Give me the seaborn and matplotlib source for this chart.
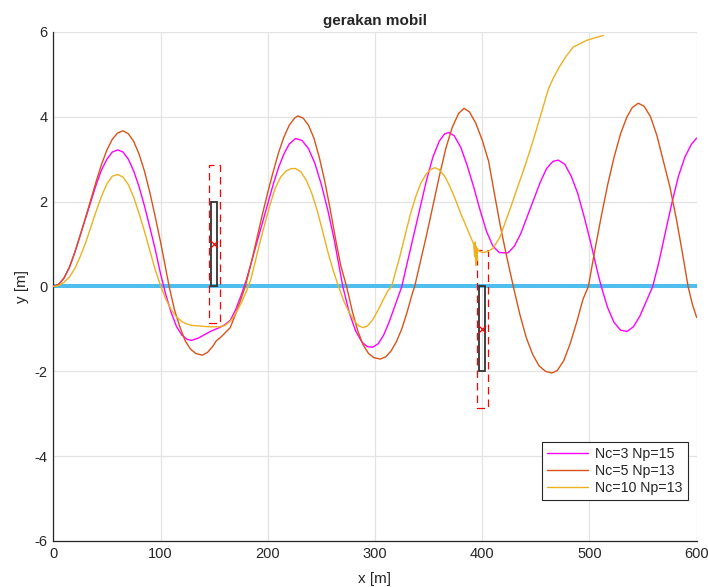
import matplotlib
matplotlib.use("Agg")
import matplotlib.pyplot as plt
from matplotlib.patches import Rectangle
import seaborn as sns
import pandas as pd

# Trajectory of the car for three controller settings
nc3_x = [0, 5, 10, 15, 20, 25, 30, 35, 40, 45, 50, 55, 60, 65, 70, 75, 80, 85, 90, 95,
         100, 105, 110, 115, 120, 125, 129, 135, 140, 145, 150, 155, 160, 165, 170, 175,
         180, 185, 190, 195, 200, 205, 210, 215, 220, 226, 232, 238, 244, 250, 256, 262,
         270, 276, 282, 288, 293, 298, 303, 308, 313, 318, 325, 330, 336, 342, 348, 354,
         360, 365, 369, 374, 380, 386, 392, 398, 404, 410, 416, 424, 430, 436, 442, 448,
         454, 460, 466, 471, 477, 483, 489, 495, 501, 507, 511, 517, 523, 529, 535, 541,
         547, 553, 559, 565, 571, 577, 583, 589, 595, 600]
nc3_y = [0, 0.05, 0.2, 0.45, 0.8, 1.2, 1.6, 2.0, 2.4, 2.75, 3.0, 3.17, 3.22, 3.17, 3.0,
         2.72, 2.35, 1.9, 1.4, 0.88, 0.3, -0.2, -0.62, -0.95, -1.15, -1.25, -1.27, -1.22,
         -1.15, -1.08, -1.02, -0.97, -0.9, -0.8, -0.55, -0.22, 0.15, 0.6, 1.05, 1.5, 1.95,
         2.4, 2.8, 3.12, 3.36, 3.49, 3.44, 3.25, 2.9, 2.4, 1.8, 1.1, 0.0, -0.62, -1.05,
         -1.32, -1.42, -1.43, -1.35, -1.15, -0.85, -0.5, 0.0, 0.55, 1.2, 1.85, 2.5, 3.05,
         3.43, 3.6, 3.63, 3.55, 3.28, 2.85, 2.35, 1.8, 1.3, 0.95, 0.8, 0.79, 0.95, 1.25,
         1.65, 2.05, 2.45, 2.78, 2.95, 2.98, 2.88, 2.6, 2.2, 1.65, 1.05, 0.4, 0.0, -0.5,
         -0.85, -1.03, -1.06, -0.95, -0.7, -0.35, 0.0, 0.6, 1.3, 1.98, 2.6, 3.05, 3.35, 3.5]

nc5_x = [0, 5, 10, 15, 20, 25, 30, 35, 40, 45, 50, 55, 60, 65, 70, 75, 80, 85, 90, 95,
         100, 105, 108, 113, 118, 123, 128, 133, 139, 144, 149, 152, 156, 160, 165, 170,
         175, 179, 185, 190, 195, 200, 205, 210, 215, 220, 225, 228, 233, 238, 243, 248,
         253, 258, 263, 268, 273.5, 279, 284, 289, 294, 299, 305, 310, 315, 320, 325, 330,
         335, 337, 342, 348, 354, 360, 366, 372, 378, 383, 388, 394, 400, 406, 412, 416.5,
         422, 429, 435, 441, 447, 453, 459, 465, 470, 476, 482, 488, 494, 499, 505, 511,
         517, 523, 529, 535, 540, 545.5, 551, 557, 563, 569, 575, 581, 587, 592, 596, 600]
nc5_y = [0, 0.05, 0.2, 0.45, 0.8, 1.2, 1.62, 2.05, 2.48, 2.88, 3.22, 3.47, 3.62, 3.67,
         3.6, 3.42, 3.12, 2.72, 2.22, 1.65, 1.05, 0.4, 0.0, -0.55, -0.95, -1.28, -1.48,
         -1.58, -1.62, -1.55, -1.4, -1.28, -1.2, -1.1, -0.97, -0.65, -0.3, 0.0, 0.6, 1.15,
         1.7, 2.22, 2.7, 3.15, 3.52, 3.8, 3.97, 4.02, 3.97, 3.8, 3.5, 3.05, 2.5, 1.85,
         1.15, 0.5, 0.0, -0.6, -1.05, -1.38, -1.58, -1.68, -1.71, -1.66, -1.52, -1.3,
         -1.0, -0.6, -0.15, 0.0, 0.55, 1.2, 1.9, 2.6, 3.25, 3.75, 4.08, 4.2, 4.12, 3.85,
         3.45, 2.95, 2.1, 1.48, 0.8, 0.0, -0.65, -1.2, -1.6, -1.87, -2.0, -2.04, -1.98,
         -1.75, -1.35, -0.85, -0.3, 0.0, 0.85, 1.65, 2.4, 3.05, 3.6, 4.0, 4.22, 4.32, 4.25,
         4.0, 3.55, 2.95, 2.35, 1.6, 0.75, 0.0, -0.42, -0.73]

nc10_x = [0, 5, 10, 15, 20, 25, 30, 35, 40, 45, 50, 55, 60, 65, 70, 75, 80, 85, 90, 95,
          100, 105, 110, 115, 120, 125, 130, 135, 140, 145, 150, 155, 160, 165, 168, 172,
          176, 180, 184, 188, 192, 197, 202, 207, 212, 217, 222, 226, 231, 236, 241, 246,
          251, 256, 261, 266, 271, 276, 281, 285, 289, 293, 298, 303, 308, 312, 315.5, 319,
          323, 328, 333, 338, 343, 348, 352, 356, 360, 365, 370, 375, 380, 385, 390, 392,
          393, 393.5, 394, 394.5, 395, 395.5, 396.3, 400, 405, 410, 416.5, 422, 427, 432,
          440, 447.6, 455, 461.5, 466, 472, 478, 485, 491, 497, 505, 513]
nc10_y = [0, 0.02, 0.1, 0.22, 0.42, 0.7, 1.02, 1.4, 1.78, 2.13, 2.42, 2.6, 2.64, 2.58,
          2.4, 2.1, 1.72, 1.3, 0.85, 0.4, 0.02, -0.3, -0.55, -0.72, -0.83, -0.89, -0.92,
          -0.93, -0.94, -0.95, -0.95, -0.95, -0.92, -0.82, -0.72, -0.55, -0.35, -0.12, 0.15,
          0.55, 0.97, 1.45, 1.92, 2.32, 2.58, 2.72, 2.78, 2.78, 2.7, 2.5, 2.2, 1.8, 1.32,
          0.82, 0.38, 0.0, -0.35, -0.62, -0.82, -0.93, -0.97, -0.93, -0.78, -0.55, -0.3,
          -0.1, 0.0, 0.33, 0.69, 1.2, 1.7, 2.12, 2.45, 2.66, 2.76, 2.8, 2.75, 2.6, 2.35,
          2.05, 1.72, 1.42, 1.12, 1.0, 0.7, 1.05, 0.5, 0.95, 0.6, 0.9, 0.85, 0.8, 0.82,
          0.9, 1.16, 1.55, 1.9, 2.27, 2.85, 3.45, 4.08, 4.64, 4.9, 5.18, 5.42, 5.65, 5.72,
          5.8, 5.86, 5.92]

series_labels = ["Nc=3 Np=15", "Nc=5 Np=13", "Nc=10 Np=13"]

# Road centre line
road_x = [0, 600]
road_y = [0, 0]

# Obstacles: centre (x, y), body size, safety margin size
obstacle_x = [150, 400]
obstacle_y = [1, -1]
body_w, body_h = 6, 2
margin_w, margin_h = 10, 3.74

sns.set_style("white")
plt.rcParams["font.family"] = ["Liberation Sans", "DejaVu Sans"]
plt.rcParams["axes.unicode_minus"] = False

fig = plt.figure(figsize=(7.08, 5.87), dpi=100)
ax = fig.add_axes([0.0753, 0.0784, 0.9087, 0.8671])

ax.grid(True, color="#e3e3e3", linewidth=0.9, zorder=0)
ax.set_axisbelow(True)

sns.lineplot(x=road_x, y=road_y, color="#4DBEEE", linewidth=2.9, ax=ax, zorder=2)

for ox, oy in zip(obstacle_x, obstacle_y):
    ax.add_patch(Rectangle((ox - body_w / 2, oy - body_h / 2), body_w, body_h,
                           fill=False, edgecolor="#333333", linewidth=1.3, zorder=3))
    ax.add_patch(Rectangle((ox - margin_w / 2, oy - margin_h / 2), margin_w, margin_h,
                           fill=False, edgecolor="#ff0000", linewidth=0.9,
                           linestyle=(0, (6, 4)), zorder=3))
sns.scatterplot(x=obstacle_x, y=obstacle_y, marker="x", color="#ff0000", s=25,
                linewidth=0.9, ax=ax, zorder=4)

colors = ["#ff00ff", "#D95319", "#EDB120"]
for xs, ys, lab, col in zip([nc3_x, nc5_x, nc10_x], [nc3_y, nc5_y, nc10_y],
                            series_labels, colors):
    df = pd.DataFrame({"x": xs, "y": ys})
    sns.lineplot(data=df, x="x", y="y", sort=False, estimator=None, color=col,
                 linewidth=1.0, label=lab, ax=ax, zorder=5)

ax.set_xlim(0, 600)
ax.set_ylim(-6, 6)
ax.set_xticks(range(0, 601, 100))
ax.set_yticks(range(-6, 7, 2))
ax.set_title("gerakan mobil", fontsize=11, fontweight="bold", pad=5)
ax.set_xlabel("x [m]", fontsize=11, labelpad=8)
ax.set_ylabel("y [m]", fontsize=11, labelpad=4)
ax.tick_params(axis="both", direction="in", length=4, width=0.8, colors="#262626",
               labelsize=10.5, pad=4)
for side in ["top", "right"]:
    ax.spines[side].set_visible(False)
for side in ["left", "bottom"]:
    ax.spines[side].set_color("#262626")
    ax.spines[side].set_linewidth(0.9)

leg = ax.legend(loc="lower right", bbox_to_anchor=(0.986, 0.081), fontsize=10.2,
                frameon=True, fancybox=False, framealpha=1, edgecolor="#262626",
                handlelength=2.9, borderpad=0.35, labelspacing=0.2,
                handletextpad=0.5, borderaxespad=0)
leg.get_frame().set_linewidth(0.8)

fig.savefig("out.png", dpi=100)
